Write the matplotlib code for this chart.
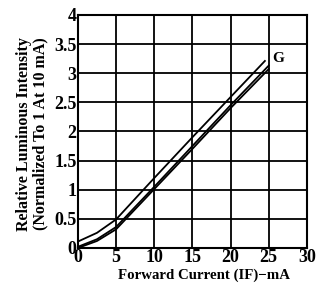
import numpy as np
import matplotlib.pyplot as plt

current = [0, 2.5, 5, 10, 15, 20, 24.5]
upper = [0.11, 0.26, 0.49, 1.2, 1.9, 2.59, 3.21]

current_low = [0, 2.5, 5, 10, 15, 20, 25]
lower_a = [0.02, 0.15, 0.36, 1.05, 1.75, 2.45, 3.13]
lower_b = [0.0, 0.12, 0.32, 1.01, 1.7, 2.4, 3.07]

xticks = [0, 5, 10, 15, 20, 25, 30]
yticks = [0, 0.5, 1, 1.5, 2, 2.5, 3, 3.5, 4]
ytick_labels = ['0', '0.5', '1', '1.5', '2', '2.5', '3', '3.5', '4']

plt.rcParams['font.family'] = ['Liberation Serif', 'DejaVu Serif']
plt.rcParams['font.weight'] = 'bold'

fig = plt.figure(figsize=(3.18, 2.87), dpi=100)
ax = fig.add_axes([0.245, 0.136, 0.72, 0.812])

ax.plot(current, upper, color='black', lw=1.3)
ax.plot(current_low, lower_a, color='black', lw=1.3)
ax.plot(current_low, lower_b, color='black', lw=1.3)
ax.text(25.4, 3.2, 'G', fontsize=11, fontweight='bold')

ax.set_xlim(0, 30)
ax.set_ylim(0, 4)
ax.set_xticks(xticks)
ax.set_yticks(yticks)
ax.set_yticklabels(ytick_labels)
ax.tick_params(length=0, pad=1, labelsize=13)
ax.grid(True, color='black', lw=1.3)
for s in ax.spines.values():
    s.set_linewidth(1.5)

ax.set_xlabel('Forward Current (IF)\u2212mA', fontsize=10.7, fontweight='bold')
ax.xaxis.set_label_coords(0.55, -0.088)
ax.set_ylabel('Relative Luminous Intensity\n(Normalized To 1 At 10 mA)',
              fontsize=11.5, fontweight='bold', linespacing=1.0)
ax.yaxis.set_label_coords(-0.13, 0.49)

fig.savefig('out.png', dpi=100)
